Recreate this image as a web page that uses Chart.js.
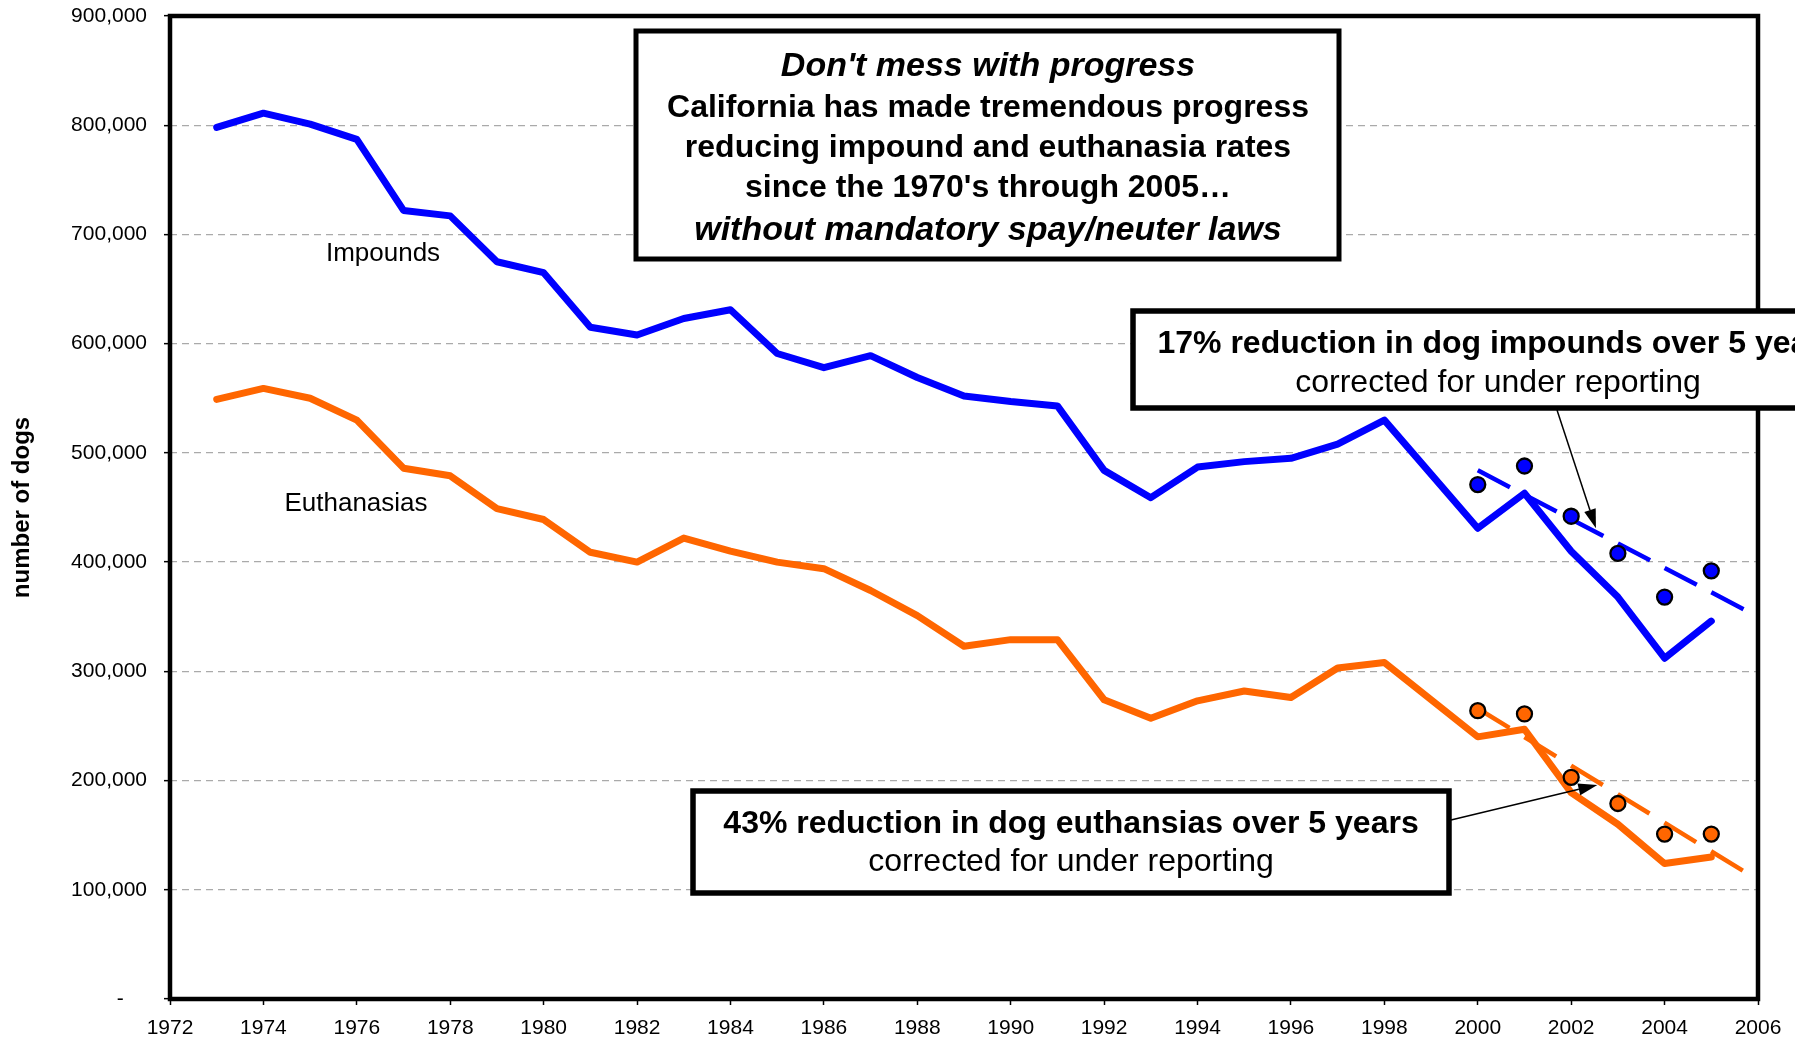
<!DOCTYPE html>
<html>
<head>
<meta charset="utf-8">
<script src="https://cdn.jsdelivr.net/npm/chart.js@4.4.1/dist/chart.umd.min.js"></script>
<style>
html, body { margin: 0; padding: 0; background: #fff; }
#wrap { width: 1795px; height: 1042px; }
</style>
</head>
<body>
<div id="wrap"><canvas id="chart1" width="1795" height="1042"></canvas></div>
<script>
// data (1999 has no point, the line just joins 1998 to 2000)
const years = [1973, 1974, 1975, 1976, 1977, 1978, 1979, 1980, 1981, 1982, 1983,
  1984, 1985, 1986, 1987, 1988, 1989, 1990, 1991, 1992, 1993, 1994, 1995, 1996,
  1997, 1998, 1999, 2000, 2001, 2002, 2003, 2004, 2005];
const impounds = [798000, 811000, 801000, 787000, 722000, 717000, 675000, 665000,
  615000, 608000, 623000, 631000, 591000, 578000, 589000, 569000, 552000, 547000,
  543000, 484000, 459000, 487000, 492000, 495000, 508000, 530000, null, 431000,
  463000, 410000, 368000, 312000, 346000];
const euthanasias = [549000, 559000, 550000, 530000, 486000, 479000, 449000, 439000,
  409000, 400000, 422000, 410000, 400000, 394000, 374000, 351000, 323000, 329000,
  329000, 274000, 257000, 273000, 282000, 276000, 303000, 308000, null, 240000,
  247000, 189000, 160000, 124000, 130000];

// corrected for under reporting
const correctedYears = [2000, 2001, 2002, 2003, 2004, 2005];
const impoundsCorrected = [471000, 488000, 442000, 408000, 368000, 392000];
const euthanasiasCorrected = [264000, 261000, 203000, 179000, 151000, 151000];

// trend lines
const trendYears = [2000, 2006];
const impoundsTrend = [484000, 350000];
const euthanasiasTrend = [266000, 109000];

const yearTicks = [1972, 1974, 1976, 1978, 1980, 1982, 1984, 1986, 1988, 1990,
  1992, 1994, 1996, 1998, 2000, 2002, 2004, 2006];
const valueTicks = [0, 100000, 200000, 300000, 400000, 500000, 600000, 700000,
  800000, 900000];

const BLUE = '#0000ff';
const ORANGE = '#ff6600';
const FONT = '"Liberation Sans", Arial, Helvetica, sans-serif';

function pts(xs, ys) {
  return xs.map(function(x, i) { return {x: x, y: ys[i]}; });
}

function drawBox(ctx, l, t, r, b, w) {
  ctx.fillStyle = '#fff';
  ctx.fillRect(l, t, r - l, b - t);
  ctx.lineWidth = w;
  ctx.strokeStyle = '#000';
  ctx.strokeRect(l, t, r - l, b - t);
}

function arrow(ctx, x1, y1, x2, y2) {
  const ang = Math.atan2(y2 - y1, x2 - x1);
  const len = 19, half = 6;
  const bx = x2 - len * Math.cos(ang), by = y2 - len * Math.sin(ang);
  ctx.strokeStyle = '#000';
  ctx.lineWidth = 1.5;
  ctx.beginPath();
  ctx.moveTo(x1, y1);
  ctx.lineTo(bx, by);
  ctx.stroke();
  ctx.fillStyle = '#000';
  ctx.beginPath();
  ctx.moveTo(x2, y2);
  ctx.lineTo(bx + half * Math.sin(ang), by - half * Math.cos(ang));
  ctx.lineTo(bx - half * Math.sin(ang), by + half * Math.cos(ang));
  ctx.closePath();
  ctx.fill();
}

function text(ctx, s, x, y, font) {
  ctx.font = font;
  ctx.fillStyle = '#000';
  ctx.textAlign = 'center';
  ctx.textBaseline = 'alphabetic';
  ctx.fillText(s, x, y);
}

//frame, series names, call-out boxes
const notesPlugin = {
  id: 'notes',
  afterDraw: function(chart) {
    const ctx = chart.ctx;
    const a = chart.chartArea;
    const xs = chart.scales.x, ys = chart.scales.y;
    ctx.save();
    ctx.lineWidth = 4.5;
    ctx.strokeStyle = '#000';
    ctx.strokeRect(a.left, a.top, a.right - a.left, a.bottom - a.top);

    text(ctx, 'Impounds', 383, 261, '26px ' + FONT);
    text(ctx, 'Euthanasias', 356, 511, '26px ' + FONT);

    // main message
    drawBox(ctx, 636, 31, 1339, 259, 5);
    text(ctx, "Don't mess with progress", 988, 76, 'italic bold 34px ' + FONT);
    text(ctx, 'California has made tremendous progress', 988, 117, 'bold 32px ' + FONT);
    text(ctx, 'reducing impound and euthanasia rates', 988, 157, 'bold 32px ' + FONT);
    text(ctx, "since the 1970's through 2005\u2026", 988, 197, 'bold 32px ' + FONT);
    text(ctx, 'without mandatory spay/neuter laws', 988, 240, 'italic bold 34px ' + FONT);

    // impounds call-out
    arrow(ctx, 1557, 410, xs.getPixelForValue(2002.53), ys.getPixelForValue(431000));
    drawBox(ctx, 1133, 311, 1863, 408, 5.5);
    text(ctx, '17% reduction in dog impounds over 5 years', 1498, 353, 'bold 32px ' + FONT);
    text(ctx, 'corrected for under reporting', 1498, 392, '32px ' + FONT);

    // euthanasia call-out
    arrow(ctx, 1451, 820, xs.getPixelForValue(2002.56), ys.getPixelForValue(196000));
    drawBox(ctx, 693, 791, 1449, 893, 5.5);
    text(ctx, '43% reduction in dog euthansias over 5 years', 1071, 833, 'bold 32px ' + FONT);
    text(ctx, 'corrected for under reporting', 1071, 871, '32px ' + FONT);
    ctx.restore();
  }
};

const data = {
  datasets: [
    {
      label: 'Impounds',
      data: pts(years, impounds),
      borderColor: BLUE, borderWidth: 7, pointRadius: 0,
      spanGaps: true, borderJoinStyle: 'round', borderCapStyle: 'round',
      order: 1
    },
    {
      label: 'Euthanasias',
      data: pts(years, euthanasias),
      borderColor: ORANGE, borderWidth: 7, pointRadius: 0,
      spanGaps: true, borderJoinStyle: 'round', borderCapStyle: 'round',
      order: 1
    },
    {
      label: 'Impounds trend',
      data: pts(trendYears, impoundsTrend),
      borderColor: BLUE, borderWidth: 4.5, borderDash: [36.3, 16.4], pointRadius: 0,
      borderCapStyle: 'butt',
      order: 2
    },
    {
      label: 'Euthanasias trend',
      data: pts(trendYears, euthanasiasTrend),
      borderColor: ORANGE, borderWidth: 4.5, borderDash: [37.2, 17.5], pointRadius: 0,
      borderCapStyle: 'butt',
      order: 2
    },
    {
      label: 'Impounds corrected',
      data: pts(correctedYears, impoundsCorrected),
      showLine: false, pointRadius: 7.5, pointBorderWidth: 2.3,
      pointBackgroundColor: BLUE, pointBorderColor: '#000',
      order: 0
    },
    {
      label: 'Euthanasias corrected',
      data: pts(correctedYears, euthanasiasCorrected),
      showLine: false, pointRadius: 7.5, pointBorderWidth: 2.3,
      pointBackgroundColor: ORANGE, pointBorderColor: '#000',
      order: 0
    }
  ]
};

const config = {
  type: 'line',
  data: data,
  options: {
    responsive: false,
    animation: false,
    devicePixelRatio: 1,
    layout: { padding: { left: 0, top: 16, right: 37, bottom: 0 } },
    plugins: {
      legend: { display: false },
      tooltip: { enabled: false }
    },
    scales: {
      x: {
        type: 'linear',
        min: 1972, max: 2006,
        afterBuildTicks: function(scale) {
          scale.ticks = yearTicks.map(function(v) { return {value: v}; });
        },
        ticks: {
          autoSkip: false, maxRotation: 0, padding: 11, color: '#000',
          font: { family: FONT, size: 21 },
          callback: function(v) { return String(v); }
        },
        grid: { drawOnChartArea: false, drawTicks: true, tickLength: 6, tickColor: '#000', tickWidth: 1.5 },
        border: { display: false },
        afterFit: function(scale) { scale.height = 43; }
      },
      y: {
        min: 0, max: 900000,
        afterBuildTicks: function(scale) {
          scale.ticks = valueTicks.map(function(v) { return {value: v}; });
        },
        ticks: {
          padding: 17, color: '#000',
          font: { family: FONT, size: 21 },
          callback: function(v) { return v === 0 ? '-    ' : v.toLocaleString('en-US'); }
        },
        grid: { color: '#aaaaaa', lineWidth: 1.3, tickLength: 6, tickColor: '#000', tickWidth: 1.5 },
        border: { display: false, dash: [7, 5] },
        title: {
          display: true, text: 'number of dogs', color: '#000',
          font: { family: FONT, size: 24, weight: 'bold' },
          padding: { top: 8, bottom: 0 }
        },
        afterFit: function(scale) {
          scale.width = 170;
          scale.paddingTop = 0;
          scale.paddingBottom = 0;
        }
      }
    }
  },
  plugins: [notesPlugin]
};

const myChart = new Chart(document.getElementById('chart1'), config);
</script>
</body>
</html>
